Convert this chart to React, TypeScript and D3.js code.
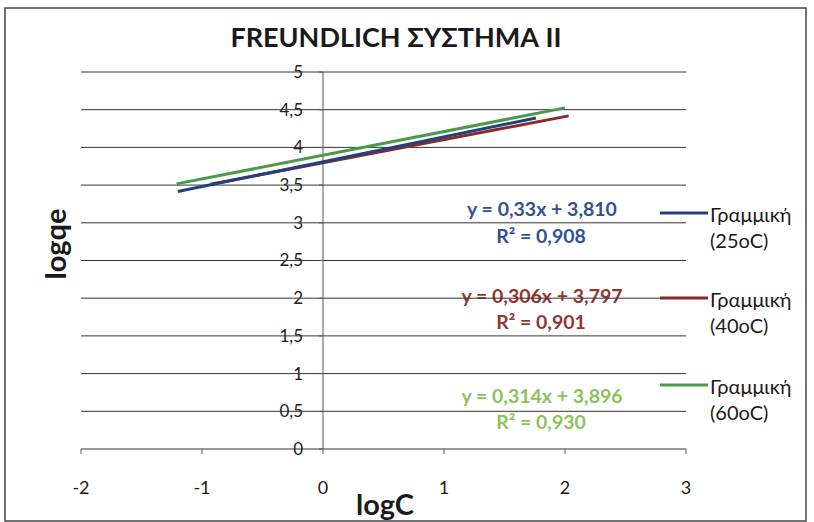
import { line, range, scaleLinear } from "d3";

// chart values
const yTicks = range(0, 5.01, 0.5);
const xTicks = [-2, -1, 0, 1, 2, 3];
const seriesNames = ["25oC", "40oC", "60oC"];
const slopes = [0.33, 0.306, 0.314];
const intercepts = [3.81, 3.797, 3.896];
const xStarts = [-1.2, -0.93, -1.21];
const xEnds = [1.76, 2.03, 2.0];
const equations = ["y = 0,33x + 3,810", "y = 0,306x + 3,797", "y = 0,314x + 3,896"];
const rSquared = ["R² = 0,908", "R² = 0,901", "R² = 0,930"];

const lineColors = ["#22407f", "#8a2a28", "#4a9a48"];
const textColors = ["#2f5196", "#933632", "#8cc25c"];

const W = 814;
const H = 522;
const font = "Lato, 'Open Sans', sans-serif";

const fmt = (v: number) => String(v).replace(".", ",");

const App = () => {
  const x = scaleLinear().domain([-2, 3]).range([81, 686]);
  const y = scaleLinear().domain([0, 5]).range([449, 72]);

  const path = line<[number, number]>()
    .x((d) => x(d[0]))
    .y((d) => y(d[1]));

  const eqY = [216, 303, 403];
  const r2Y = [243, 329, 429];
  const legY = [213, 298, 385];

  return (
    <svg
      width={W}
      height={H}
      style={{ position: "absolute", left: 0, top: 0, background: "#fff" }}
      fontFamily={font}
    >
      <rect x={5} y={8} width={801} height={513} fill="#fff" stroke="#444" strokeWidth={1.5} />

      <text x={396} y={47} textAnchor="middle" fontSize={27} fontWeight="bold" fill="#1a1a1a">
        FREUNDLICH ΣΥΣΤΗΜΑ II
      </text>

      {/* y tick labels (sit under the gridlines) */}
      {yTicks.map((t) => (
        <text
          key={"yl" + t}
          x={303}
          y={y(t)}
          dy="0.35em"
          textAnchor="end"
          fontSize={17}
          fill="#222"
        >
          {fmt(t)}
        </text>
      ))}

      {/* equations */}
      {equations.map((e, i) => (
        <g key={"eq" + i} fontWeight="bold" fontSize={19.5} fill={textColors[i]} textAnchor="middle">
          <text x={542} y={eqY[i]}>{e}</text>
          <text x={541} y={r2Y[i]}>{rSquared[i]}</text>
        </g>
      ))}

      {/* gridlines */}
      {yTicks.map((t) => (
        <line key={"g" + t} x1={81} x2={686} y1={y(t)} y2={y(t)} stroke="#333" strokeWidth={1} />
      ))}

      {/* y axis at x = 0 */}
      <line x1={x(0)} x2={x(0)} y1={y(5)} y2={y(0)} stroke="#555" strokeWidth={1} />
      {yTicks.map((t) => (
        <line key={"yt" + t} x1={x(0) - 4} x2={x(0)} y1={y(t)} y2={y(t)} stroke="#555" />
      ))}

      {/* x ticks */}
      {xTicks.map((t) => (
        <g key={"xt" + t}>
          <line x1={x(t)} x2={x(t)} y1={y(0)} y2={y(0) + 5} stroke="#555" />
          <text x={x(t)} y={494} textAnchor="middle" fontSize={18} fill="#1a1a1a">
            {t}
          </text>
        </g>
      ))}

      {/* trend lines */}
      {[1, 0, 2].map((i) => (
        <path
          key={"tl" + i}
          d={path([
            [xStarts[i], slopes[i] * xStarts[i] + intercepts[i]],
            [xEnds[i], slopes[i] * xEnds[i] + intercepts[i]],
          ]) ?? ""}
          stroke={lineColors[i]}
          strokeWidth={3}
          fill="none"
        />
      ))}

      {/* legend */}
      {seriesNames.map((n, i) => (
        <g key={"lg" + i}>
          <line x1={660} x2={708} y1={legY[i]} y2={legY[i]} stroke={lineColors[i]} strokeWidth={3} />
          <text x={710} y={legY[i] + 9} fontSize={20} fill="#1a1a1a">
            Γραμμική
          </text>
          <text x={710} y={legY[i] + 35} fontSize={20} fill="#1a1a1a">
            ({n})
          </text>
        </g>
      ))}

      <text x={385} y={515} textAnchor="middle" fontSize={29} fontWeight="bold" fill="#1a1a1a">
        logC
      </text>
      <text
        transform="translate(66,244) rotate(-90)"
        textAnchor="middle"
        fontSize={29}
        fontWeight="bold"
        fill="#1a1a1a"
      >
        logqe
      </text>
    </svg>
  );
};

export default App;
